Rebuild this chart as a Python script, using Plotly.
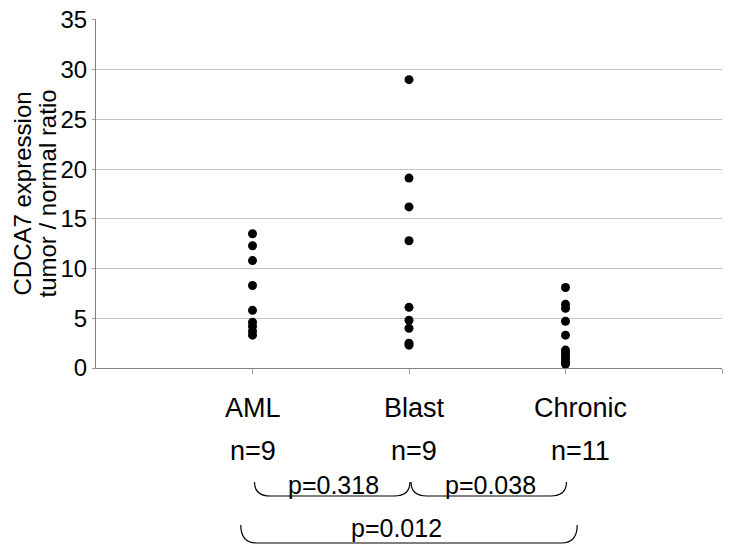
import plotly.graph_objects as go

categories = ["AML", "Blast", "Chronic"]
n_labels = ["n=9", "n=9", "n=11"]
aml = [13.5, 12.3, 10.8, 8.3, 5.8, 4.6, 4.2, 3.7, 3.3]
blast = [29.0, 19.1, 16.2, 12.8, 6.1, 4.8, 4.0, 2.5, 2.3]
chronic = [8.1, 6.4, 6.0, 4.7, 3.3, 1.8, 1.5, 1.2, 0.9, 0.6, 0.4]
series = [aml, blast, chronic]
comparisons = [("AML", "Blast", "p=0.318"), ("Blast", "Chronic", "p=0.038"), ("AML", "Chronic", "p=0.012")]
y_ticks = [0, 5, 10, 15, 20, 25, 30, 35]
y_title = ["CDCA7 expression", "tumor / normal ratio"]

FONT = "Liberation Sans, Arial, sans-serif"
X_RANGE = [0, 4]
Y_RANGE = [0, 35.1]
W, H = 732, 552
ML, MR, MT, MB = 96, 10, 19, 184
PW = W - ML - MR
PH = H - MT - MB

fig = go.Figure()
for i, vals in enumerate(series):
    fig.add_trace(go.Scatter(
        x=[i + 1] * len(vals), y=vals, mode="markers",
        marker=dict(color="black", size=9, symbol="circle"),
        showlegend=False, cliponaxis=False, hoverinfo="skip"))

def xp(c):
    return (c - X_RANGE[0]) / (X_RANGE[1] - X_RANGE[0])

def yp(px_below_axis):
    return -px_below_axis / PH

annotations = []
for i, (cat, nl) in enumerate(zip(categories, n_labels)):
    shift = [0, 5, 15][i]
    annotations.append(dict(x=i + 1, y=yp(40), xref="x", yref="paper", text=cat,
                            showarrow=False, xanchor="center", yanchor="middle",
                            xshift=shift, font=dict(size=27, family=FONT, color="black")))
    annotations.append(dict(x=i + 1, y=yp(83), xref="x", yref="paper", text=nl,
                            showarrow=False, xanchor="center", yanchor="middle",
                            xshift=shift, font=dict(size=27, family=FONT, color="black")))

shapes = []
for k, (a, b, label) in enumerate(comparisons):
    ia = categories.index(a) + 1
    ib = categories.index(b) + 1
    big = (ib - ia) > 1
    ext = 0.075 if big else 0.0
    x0 = xp(ia - ext) + (0 if big else 2 / PW)
    x1 = xp(ib + ext) + (0 if big else 1 / PW)
    top = yp(157) if big else yp(114)
    bot = yp(175) if big else yp(128)
    rx = 16 / PW
    path = (f"M {x0},{top} Q {x0},{bot} {x0 + rx},{bot} "
            f"L {x1 - rx},{bot} Q {x1},{bot} {x1},{top}")
    shapes.append(dict(type="path", path=path, xref="paper", yref="paper",
                       line=dict(color="black", width=1.2)))
    annotations.append(dict(x=(ia + ib) / 2, y=yp(160 if big else 117), xref="x", yref="paper",
                            text=label, showarrow=False, xanchor="center", yanchor="middle",
                            xshift=(-13 if big else 3),
                            font=dict(size=25, family=FONT, color="black")))

for j, (t, xpix) in enumerate(zip(y_title, [22, 47])):
    annotations.append(dict(x=(xpix - ML) / PW, y=0.5, xref="paper", yref="paper",
                            text=t, textangle=-90, showarrow=False,
                            xanchor="center", yanchor="middle",
                            font=dict(size=24, family=FONT, color="black")))

fig.update_layout(
    width=W, height=H,
    margin=dict(l=ML, r=MR, t=MT, b=MB, autoexpand=False),
    plot_bgcolor="white", paper_bgcolor="white",
    font=dict(family=FONT, color="black"),
    annotations=annotations, shapes=shapes,
    xaxis=dict(range=X_RANGE, tickvals=[1, 2, 3, 4], showticklabels=False,
               ticks="outside", ticklen=5, tickcolor="#a0a0a0", automargin=False,
               showgrid=False, zeroline=False, showline=True, linecolor="#808080",
               linewidth=1, fixedrange=True),
    yaxis=dict(range=Y_RANGE, tickvals=y_ticks, ticks="outside", ticklen=3,
               tickcolor="#a0a0a0", ticklabeloverflow="allow", automargin=False,
               tickfont=dict(size=24, family=FONT, color="black"),
               showgrid=True, gridcolor="#c4c4c4", gridwidth=1,
               zeroline=False, showline=True, linecolor="#808080", linewidth=1),
)

fig.write_html("out.html", config={"displayModeBar": False},
               post_script="document.body.style.margin='0';")
